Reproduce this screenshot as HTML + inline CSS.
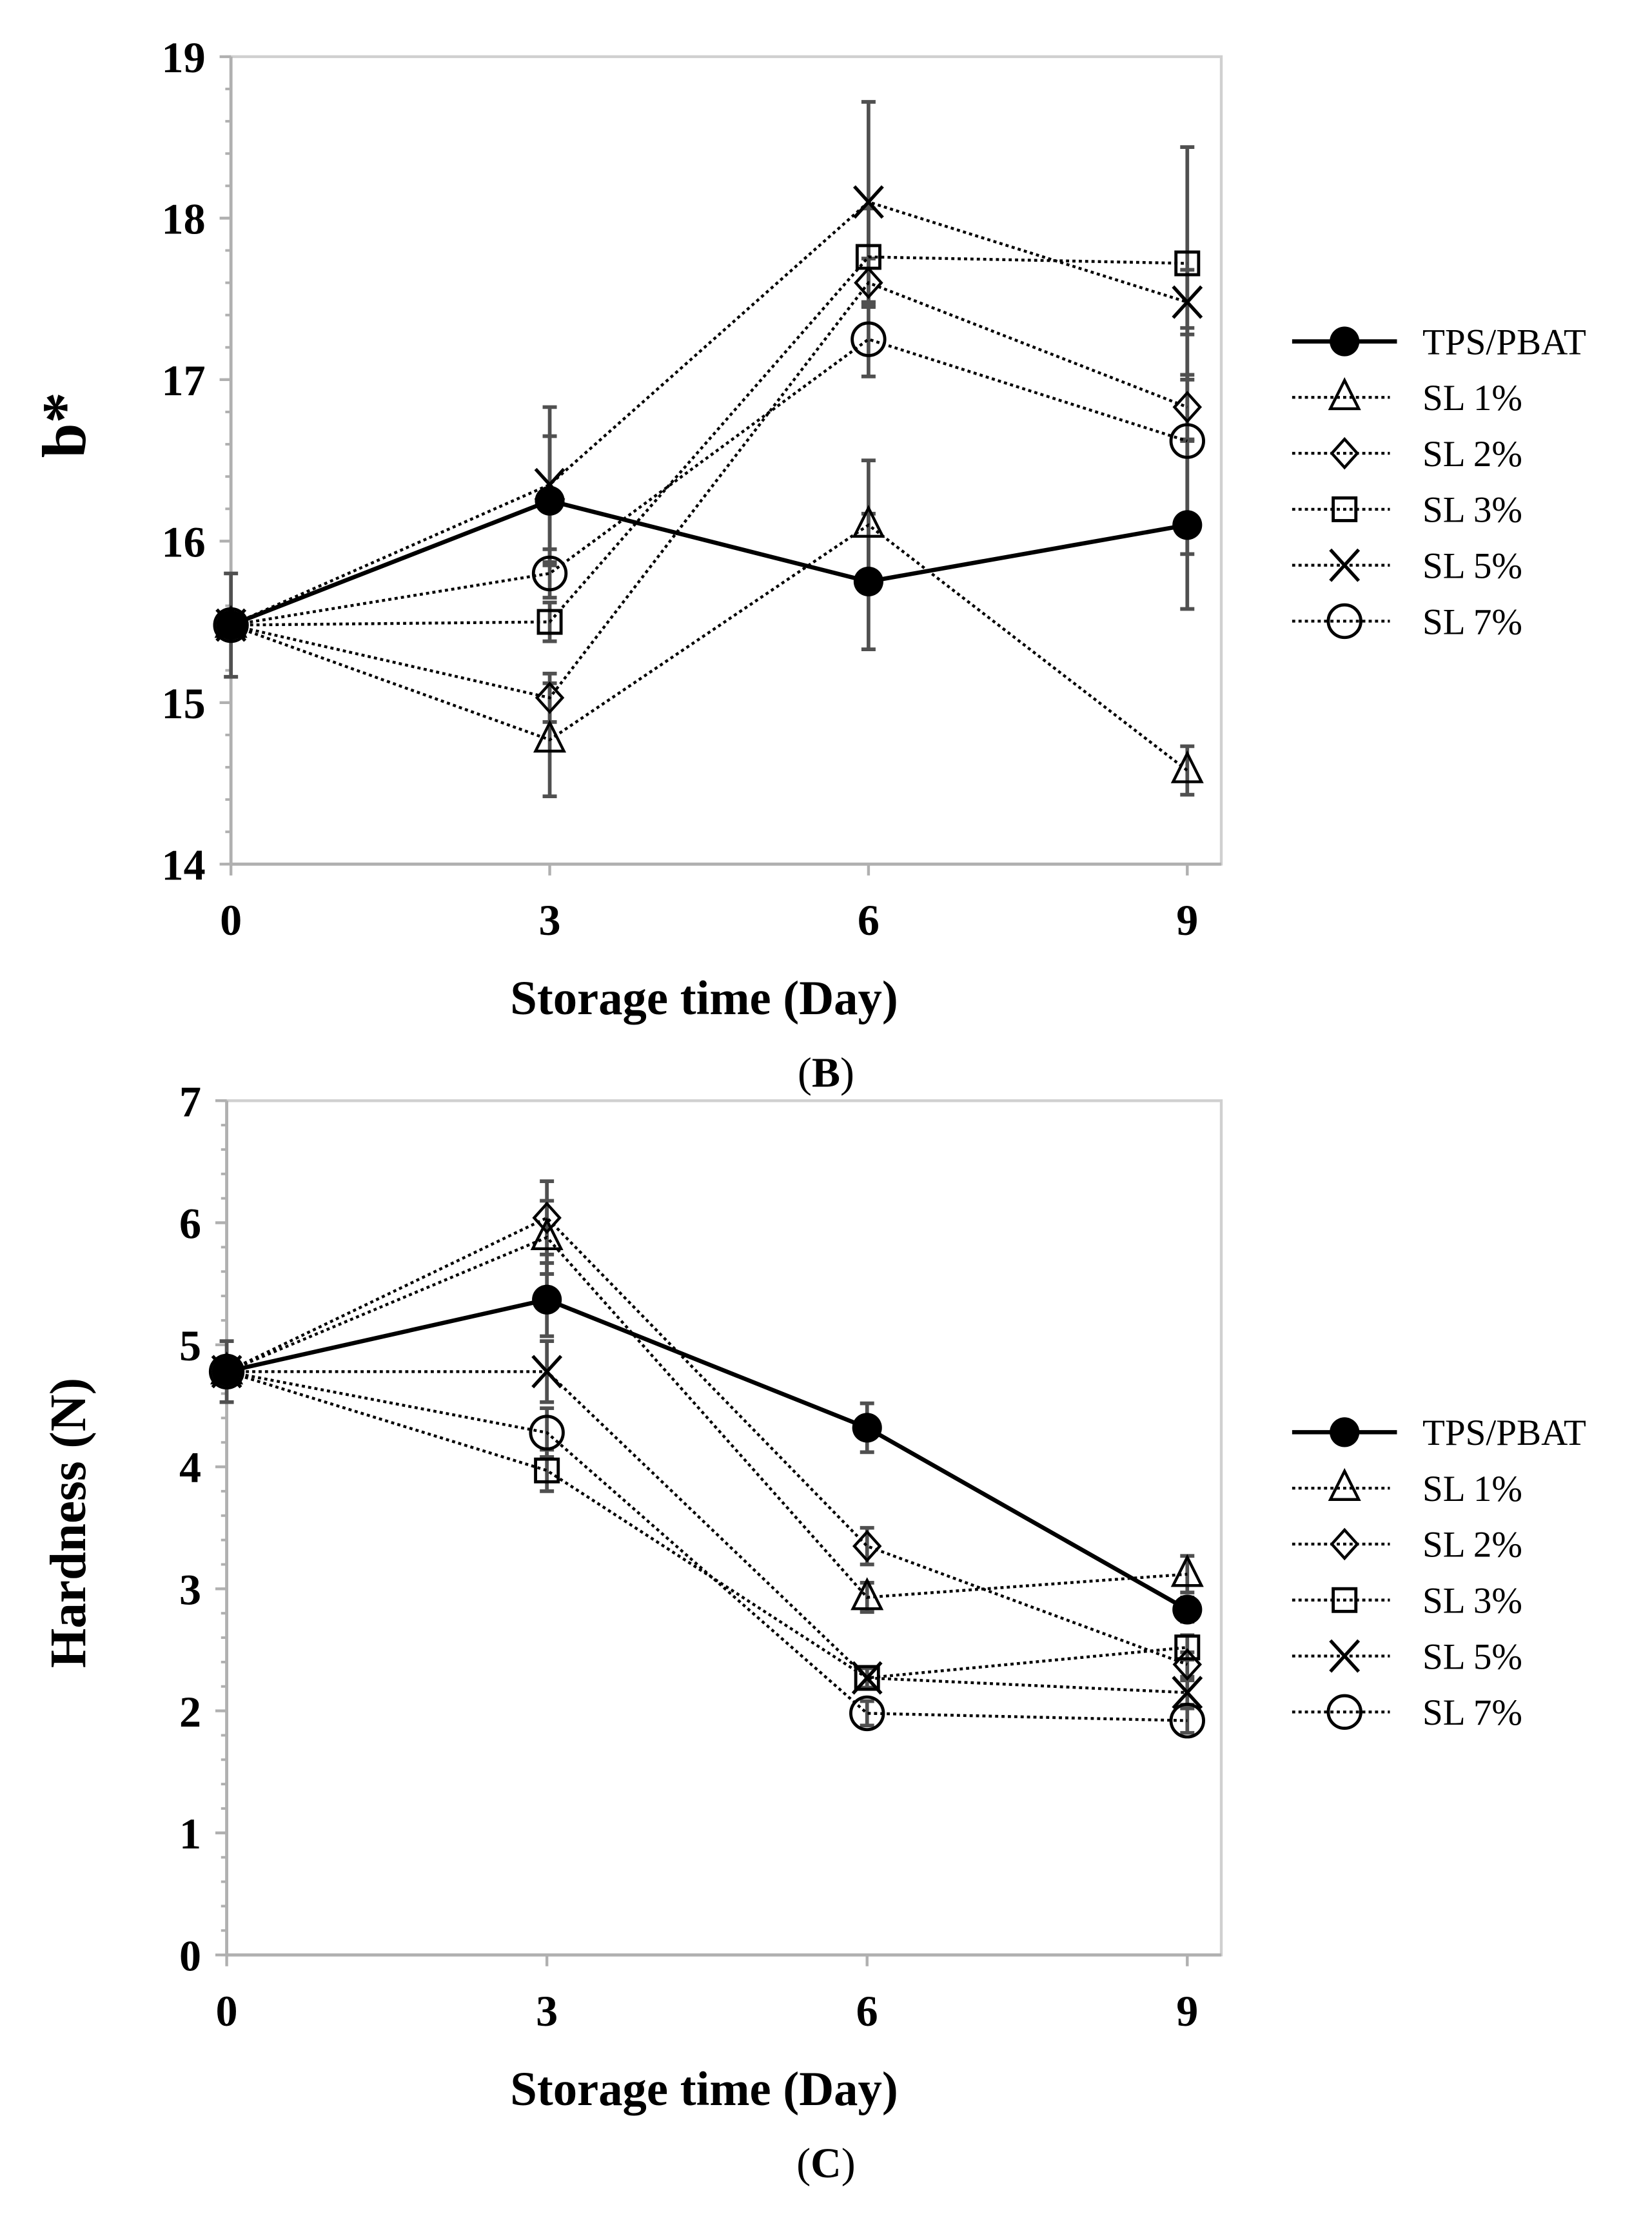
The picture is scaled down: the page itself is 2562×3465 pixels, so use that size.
<!DOCTYPE html>
<html><head><meta charset="utf-8"><style>
html,body{margin:0;padding:0;background:#fff;}
svg{display:block;}
</style></head><body>
<svg id="fig" width="2562" height="3465" viewBox="0 0 1166 1577" xmlns="http://www.w3.org/2000/svg" font-family="Liberation Serif, serif"></svg>
<script>
const days = [0, 3, 6, 9];
const seriesNames = ["TPS/PBAT", "SL  1%", "SL  2%", "SL  3%", "SL  5%", "SL  7%"];
const markers = ["dot", "tri", "dia", "sq", "x", "circ"];
// Panel B: b*
const bTPS = [15.48, 16.25, 15.75, 16.1];
const bSL1 = [15.48, 14.77, 16.1, 14.58];
const bSL2 = [15.48, 15.03, 17.6, 16.83];
const bSL3 = [15.48, 15.5, 17.76, 17.72];
const bSL5 = [15.48, 16.35, 18.1, 17.48];
const bSL7 = [15.48, 15.8, 17.25, 16.62];
const bErrTPS = [0.32, 0.4, 0.42, 0.52];
const bErrSL1 = [0.05, 0.35, 0.4, 0.15];
const bErrSL2 = [0.05, 0.15, 0.15, 0.2];
const bErrSL3 = [0.05, 0.12, 0.3, 0.72];
const bErrSL5 = [0.05, 0.48, 0.62, 0.2];
const bErrSL7 = [0.05, 0.15, 0.23, 0.7];
const bTicks = [14, 15, 16, 17, 18, 19];
// Panel C: Hardness
const cTPS = [4.78, 5.37, 4.32, 2.83];
const cSL1 = [4.78, 5.88, 2.93, 3.12];
const cSL2 = [4.78, 6.04, 3.35, 2.38];
const cSL3 = [4.78, 3.97, 2.27, 2.52];
const cSL5 = [4.78, 4.78, 2.27, 2.15];
const cSL7 = [4.78, 4.28, 1.98, 1.92];
const cErrTPS = [0.25, 0.3, 0.2, 0.1];
const cErrSL1 = [0.05, 0.3, 0.12, 0.15];
const cErrSL2 = [0.05, 0.3, 0.15, 0.1];
const cErrSL3 = [0.05, 0.17, 0.08, 0.1];
const cErrSL5 = [0.05, 0.25, 0.08, 0.1];
const cErrSL7 = [0.05, 0.2, 0.1, 0.1];
const cTicks = [0, 1, 2, 3, 4, 5, 6, 7];

const NS = "http://www.w3.org/2000/svg";
const svg = document.getElementById("fig");
function mk(tag, attrs, parent) {
  const e = document.createElementNS(NS, tag);
  for (const k in attrs) e.setAttribute(k, attrs[k]);
  (parent || svg).appendChild(e);
  return e;
}
function marker(g, type, x, y) {
  let e;
  if (type === "dot") e = mk("circle", {cx: x, cy: y, r: 10.5, fill: "#000"}, g);
  else if (type === "tri") e = mk("polygon", {points: `${x},${y-12} ${x-10},${y+8} ${x+10},${y+8}`, fill: "none", stroke: "#000", "stroke-width": 2}, g);
  else if (type === "dia") e = mk("polygon", {points: `${x},${y-10} ${x+9},${y} ${x},${y+10} ${x-9},${y}`, fill: "none", stroke: "#000", "stroke-width": 2}, g);
  else if (type === "sq") e = mk("rect", {x: x-8, y: y-8, width: 16, height: 16, fill: "none", stroke: "#000", "stroke-width": 2.2}, g);
  else if (type === "x") e = mk("path", {d: `M${x-10},${y-11}L${x+10},${y+11}M${x+10},${y-11}L${x-10},${y+11}`, stroke: "#000", "stroke-width": 2.4}, g);
  else e = mk("circle", {cx: x, cy: y, r: 11.5, fill: "none", stroke: "#000", "stroke-width": 2.2}, g);
  
  
}
function panel(cfg) {
  const g = mk("g", {});
  
  
  const xs = d => cfg.x0 + (d / 9) * (cfg.x9 - cfg.x0);
  const ys = v => cfg.yb - (v - cfg.ymin) / (cfg.ymax - cfg.ymin) * (cfg.yb - cfg.yt);
  const frame = mk("rect", {x: cfg.x0, y: cfg.yt, width: cfg.xr - cfg.x0, height: cfg.yb - cfg.yt, fill: "none", stroke: "#d0d0d0", "stroke-width": 2}, g);
  
  
  mk("line", {x1: cfg.x0, y1: cfg.yt, x2: cfg.x0, y2: cfg.yb, stroke: "#b0b0b0", "stroke-width": 2.2}, g);
  mk("line", {x1: cfg.x0, y1: cfg.yb, x2: cfg.xr, y2: cfg.yb, stroke: "#b0b0b0", "stroke-width": 2.2}, g);
  for (let v = cfg.ymin; v <= cfg.ymax + 1e-6; v += 0.2) {
    mk("line", {x1: cfg.x0 - 4, y1: ys(v), x2: cfg.x0, y2: ys(v), stroke: "#b0b0b0", "stroke-width": 1.8}, g);
  }
  cfg.ticks.forEach(t => {
    mk("line", {x1: cfg.x0 - 8, y1: ys(t), x2: cfg.x0, y2: ys(t), stroke: "#b0b0b0", "stroke-width": 2}, g);
    const tx = mk("text", {x: cfg.x0 - 18, y: ys(t) + 11, "text-anchor": "end", "font-size": 31, "font-weight": "bold"}, g);
    tx.textContent = t;
    
    
  });
  days.forEach(d => {
    mk("line", {x1: xs(d), y1: cfg.yb, x2: xs(d), y2: cfg.yb + 8, stroke: "#b0b0b0", "stroke-width": 2}, g);
    const tx = mk("text", {x: xs(d), y: cfg.yb + 50, "text-anchor": "middle", "font-size": 31, "font-weight": "bold"}, g);
    tx.textContent = d;
    
    
  });
  cfg.series.forEach((s, i) => {
    s.forEach((v, j) => {
      const e = cfg.errs[i][j], x = xs(days[j]);
      const eb = mk("path", {d: `M${x},${ys(v+e)}V${ys(v-e)}M${x-5},${ys(v+e)}H${x+5}M${x-5},${ys(v-e)}H${x+5}`, stroke: "#505050", "stroke-width": 2.6, fill: "none"}, g);
      
      
    });
  });
  [1,2,3,4,5,0].forEach(i => {
    const s = cfg.series[i];
    const pts = s.map((v, j) => xs(days[j]) + "," + ys(v)).join(" ");
    const pl = mk("polyline", {points: pts, fill: "none", stroke: "#000", "stroke-width": i === 0 ? 3 : 2, "stroke-dasharray": i === 0 ? "none" : "2.2,2.3"}, g);
    
    
    s.forEach((v, j) => marker(g, markers[i], xs(days[j]), ys(v)));
  });
  const yt = mk("text", {x: 0, y: 0, transform: `translate(${cfg.ytx},${cfg.ytc}) rotate(-90)`, "text-anchor": "middle", "font-size": cfg.ytSize, "font-weight": "bold"}, g);
  yt.textContent = cfg.ytitle;
  
  
  const xt = mk("text", {x: 497, y: cfg.yb + 106, "text-anchor": "middle", "font-size": 34, "font-weight": "bold"}, g);
  xt.textContent = "Storage time (Day)";
  
  
  const lab = mk("text", {x: 583, y: cfg.yb + 157, "text-anchor": "middle", "font-size": 30}, g);
  lab.innerHTML = '(<tspan font-weight="bold">' + cfg.label + '</tspan>)';
  
  
  seriesNames.forEach((n, i) => {
    const y = cfg.legY + i * 39.5;
    const lg = mk("g", {}, g);
    
    
    mk("line", {x1: 912, y1: y, x2: i === 0 ? 986 : 981, y2: y, stroke: "#000", "stroke-width": i === 0 ? 3 : 2, "stroke-dasharray": i === 0 ? "none" : "2.2,2.3"}, lg);
    marker(lg, markers[i], 949, y);
    const t = mk("text", {x: 1004, y: y + 9, "font-size": 26}, lg);
    t.setAttribute("xml:space", "preserve");
    t.textContent = n;
  });
}
panel({name: "panel-b-chart", x0: 163, x9: 838, xr: 862, yt: 40, yb: 610, ymin: 14, ymax: 19,
  ticks: bTicks, series: [bTPS, bSL1, bSL2, bSL3, bSL5, bSL7],
  errs: [bErrTPS, bErrSL1, bErrSL2, bErrSL3, bErrSL5, bErrSL7],
  ytitle: "b*", ytx: 60, ytc: 300, ytSize: 44, label: "B", legY: 241});
panel({name: "panel-c-chart", x0: 160, x9: 838, xr: 862, yt: 777, yb: 1380, ymin: 0, ymax: 7,
  ticks: cTicks, series: [cTPS, cSL1, cSL2, cSL3, cSL5, cSL7],
  errs: [cErrTPS, cErrSL1, cErrSL2, cErrSL3, cErrSL5, cErrSL7],
  ytitle: "Hardness (N)", ytx: 60, ytc: 1075, ytSize: 36, label: "C", legY: 1011});
</script>
</body></html>
